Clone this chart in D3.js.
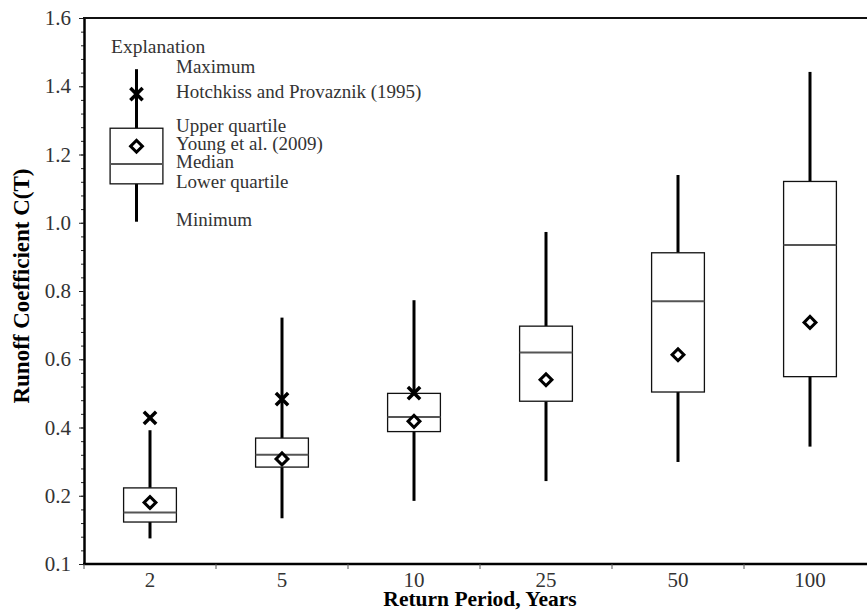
<!DOCTYPE html>
<html>
<head>
<meta charset="utf-8">
<script src="https://cdn.jsdelivr.net/npm/d3@7"></script>
<style>
    body { margin: 0; background: #fff; }
    svg { display: block; font-family: "Liberation Serif", "Times New Roman", serif; }
</style>
</head>
<body>
<div id="chart"></div>
<script>
// Runoff coefficient box plots by return period

const periods = ['2', '5', '10', '25', '50', '100'];
const whiskerMax = [0.392, 0.722, 0.773, 0.973, 1.140, 1.442];
const upperQuartile = [0.223, 0.369, 0.500, 0.697, 0.912, 1.121];
const medians = [0.151, 0.320, 0.431, 0.620, 0.770, 0.935];
const lowerQuartile = [0.123, 0.284, 0.388, 0.477, 0.504, 0.549];
const whiskerMin = [0.075, 0.134, 0.185, 0.243, 0.299, 0.344];
const youngValues = [0.180, 0.308, 0.418, 0.540, 0.613, 0.708];
const hotchkissValues = [0.428, 0.483, 0.501, null, null, null];

const yTickValues = [0, 0.2, 0.4, 0.6, 0.8, 1.0, 1.2, 1.4, 1.6];
const yTickLabels = ['0.1', '0.2', '0.4', '0.6', '0.8', '1.0', '1.2', '1.4', '1.6'];

// explanation box (drawn in data units)
const legendStats = { max: 1.450, hotchkiss: 1.377, q3: 1.277, young: 1.224, median: 1.172, q1: 1.114, min: 1.003 };
const legendLabels = [
    ['Maximum', 'max'],
    ['Hotchkiss and Provaznik (1995)', 'hotchkiss'],
    ['Upper quartile', 'q3'],
    ['Young et al. (2009)', 'young'],
    ['Median', 'median'],
    ['Lower quartile', 'q1'],
    ['Minimum', 'min']
];

const data = periods.map((p, i) => ({
    period: p,
    max: whiskerMax[i],
    q3: upperQuartile[i],
    median: medians[i],
    q1: lowerQuartile[i],
    min: whiskerMin[i],
    young: youngValues[i],
    hotchkiss: hotchkissValues[i]
}));

const W = 867, H = 615;
const plot = { left: 84, right: 876, top: 18, bottom: 564 };

const svg = d3.select('#chart').append('svg')
    .attr('width', W)
    .attr('height', H);

// Scales
const xScale = d3.scaleBand()
    .domain(periods)
    .range([plot.left, plot.right])
    .padding(0);

const yScale = d3.scaleLinear()
    .domain([0, 1.6])
    .range([plot.bottom, plot.top]);

const boxW = xScale.bandwidth() * 0.4;

// Y axis: minor ticks then labelled major ticks
const minorTicks = d3.range(0, 1.6001, 0.04);
svg.append('g')
    .attr('transform', `translate(${plot.left},0)`)
    .call(d3.axisLeft(yScale).tickValues(minorTicks).tickSize(3).tickFormat(''))
    .call(g => g.select('.domain').remove())
    .call(g => g.selectAll('line').attr('stroke', '#222').attr('stroke-width', 1));

svg.append('g')
    .attr('class', 'y-axis')
    .attr('transform', `translate(${plot.left},0)`)
    .call(d3.axisLeft(yScale)
        .tickValues(yTickValues)
        .tickSize(5)
        .tickSizeOuter(0)
        .tickPadding(8)
        .tickFormat((d, i) => yTickLabels[i]))
    .call(g => g.select('.domain').attr('stroke', '#000').attr('stroke-width', 2.5))
    .call(g => g.selectAll('line').attr('stroke', '#222').attr('stroke-width', 1))
    .call(g => g.selectAll('text')
        .style('font-size', '21px')
        .style('font-family', '"Liberation Serif", serif')
        .attr('fill', '#333'));

// X axis: ticks at band boundaries, labels at band centres
svg.append('line')
    .attr('x1', plot.left - 1).attr('x2', W)
    .attr('y1', plot.bottom).attr('y2', plot.bottom)
    .attr('stroke', '#000').attr('stroke-width', 2.5);

svg.selectAll('.x-tick')
    .data(periods)
    .enter().append('line')
    .attr('class', 'x-tick')
    .attr('x1', d => xScale(d)).attr('x2', d => xScale(d))
    .attr('y1', plot.bottom).attr('y2', plot.bottom + 5)
    .attr('stroke', '#555').attr('stroke-width', 1);

svg.selectAll('.x-label')
    .data(periods)
    .enter().append('text')
    .attr('class', 'x-label')
    .attr('x', d => xScale(d) + xScale.bandwidth() / 2)
    .attr('y', plot.bottom + 23)
    .attr('text-anchor', 'middle')
    .style('font-size', '21px')
    .attr('fill', '#333')
    .text(d => d);

// top frame line
svg.append('line')
    .attr('x1', plot.left - 1).attr('x2', W)
    .attr('y1', yScale(1.6)).attr('y2', yScale(1.6))
    .attr('stroke', '#111').attr('stroke-width', 2);

// Axis titles
svg.append('text')
    .attr('x', (plot.left + plot.right) / 2)
    .attr('y', 606)
    .attr('text-anchor', 'middle')
    .style('font-size', '21.5px')
    .style('font-weight', 'bold')
    .text('Return Period, Years');

svg.append('text')
    .attr('transform', 'translate(29,286) rotate(-90)')
    .attr('text-anchor', 'middle')
    .style('font-size', '23px')
    .style('font-weight', 'bold')
    .text('Runoff Coefficient C(T)');

// Box plot drawing
const diamond = d3.symbol().type(d3.symbolSquare).size(70);
const cross = d3.symbol().type(d3.symbolX).size(100);

function drawBox(g, d, cx) {
    g.append('line')
        .attr('x1', cx).attr('x2', cx)
        .attr('y1', yScale(d.max)).attr('y2', yScale(d.q3))
        .attr('stroke', '#000').attr('stroke-width', 3);
    g.append('line')
        .attr('x1', cx).attr('x2', cx)
        .attr('y1', yScale(d.q1)).attr('y2', yScale(d.min))
        .attr('stroke', '#000').attr('stroke-width', 3);
    g.append('rect')
        .attr('x', cx - boxW / 2)
        .attr('y', yScale(d.q3))
        .attr('width', boxW)
        .attr('height', yScale(d.q1) - yScale(d.q3))
        .attr('fill', '#fff')
        .attr('stroke', '#111')
        .attr('stroke-width', 1.3);
    g.append('line')
        .attr('x1', cx - boxW / 2).attr('x2', cx + boxW / 2)
        .attr('y1', yScale(d.median)).attr('y2', yScale(d.median))
        .attr('stroke', '#555').attr('stroke-width', 2);
    if (d.hotchkiss != null) {
        g.append('path')
            .attr('d', cross())
            .attr('transform', `translate(${cx},${yScale(d.hotchkiss)})`)
            .attr('fill', 'none')
            .attr('stroke', '#000')
            .attr('stroke-width', 3.5);
    }
    g.append('path')
        .attr('d', diamond())
        .attr('transform', `translate(${cx},${yScale(d.young)}) rotate(45)`)
        .attr('fill', '#fff')
        .attr('stroke', '#000')
        .attr('stroke-width', 3);
}

data.forEach(d => {
    drawBox(svg.append('g').attr('class', 'box'), d, xScale(d.period) + xScale.bandwidth() / 2);
});

// Explanation
const legendX = 136.5;
const legend = svg.append('g').attr('class', 'legend');
drawBox(legend, legendStats, legendX);

legend.append('text')
    .attr('x', 111)
    .attr('y', 53)
    .style('font-size', '19.5px')
    .attr('fill', '#333')
    .text('Explanation');

legend.selectAll('.legend-label')
    .data(legendLabels)
    .enter().append('text')
    .attr('class', 'legend-label')
    .attr('x', 176)
    .attr('y', d => yScale(legendStats[d[1]]) + 4)
    .style('font-size', '19px')
    .attr('fill', '#333')
    .text(d => d[0]);
</script>
</body>
</html>
